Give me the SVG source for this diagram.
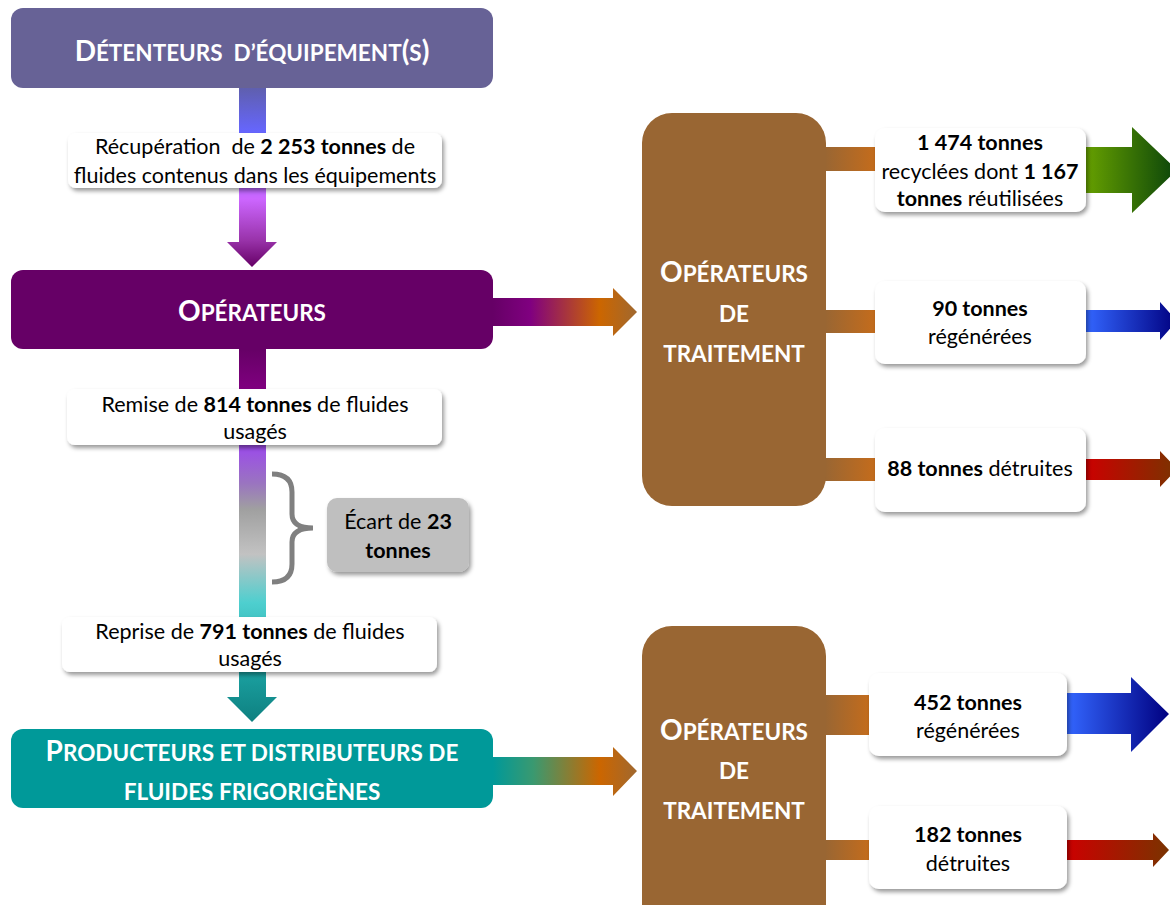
<svg xmlns="http://www.w3.org/2000/svg" width="1170" height="905" viewBox="0 0 1170 905">
<style>
.hdr{font-family:Lato,"Liberation Sans",sans-serif;font-weight:bold;fill:#fff;text-anchor:middle;white-space:pre}
.big{font-size:28px}
.sm{font-size:22.5px}
.lbl{font-family:Lato,"Liberation Sans",sans-serif;font-size:21.5px;fill:#000;text-anchor:middle;white-space:pre}
.b{font-weight:bold}
.card{fill:#fff;filter:url(#sh)}
</style>
<defs>
<filter id="sh" x="-10%" y="-20%" width="125%" height="150%">
<feDropShadow dx="2" dy="3" stdDeviation="2" flood-color="#000" flood-opacity="0.4"/>
</filter>
<linearGradient id="gv1" gradientUnits="userSpaceOnUse" x1="0" y1="88" x2="0" y2="267">
<stop offset="0" stop-color="#5f5fae"/>
<stop offset="0.25" stop-color="#6666ff"/>
<stop offset="0.62" stop-color="#cc66ff"/>
<stop offset="0.85" stop-color="#9933aa"/>
<stop offset="1" stop-color="#660066"/>
</linearGradient>
<linearGradient id="gv2" gradientUnits="userSpaceOnUse" x1="0" y1="349" x2="0" y2="722">
<stop offset="0" stop-color="#660066"/>
<stop offset="0.11" stop-color="#800080"/>
<stop offset="0.27" stop-color="#9b4fe6"/>
<stop offset="0.36" stop-color="#9a74c0"/>
<stop offset="0.43" stop-color="#a0a0a0"/>
<stop offset="0.55" stop-color="#c2c2c2"/>
<stop offset="0.68" stop-color="#4ecfcf"/>
<stop offset="0.87" stop-color="#1a9f9f"/>
<stop offset="1" stop-color="#0e8080"/>
</linearGradient>
<linearGradient id="gh1" gradientUnits="userSpaceOnUse" x1="493" y1="0" x2="637" y2="0">
<stop offset="0" stop-color="#660066"/>
<stop offset="0.26" stop-color="#800080"/>
<stop offset="0.74" stop-color="#cc6600"/>
<stop offset="1" stop-color="#a0682f"/>
</linearGradient>
<linearGradient id="gh2" gradientUnits="userSpaceOnUse" x1="493" y1="0" x2="637" y2="0">
<stop offset="0" stop-color="#009999"/>
<stop offset="0.28" stop-color="#3a9970"/>
<stop offset="0.74" stop-color="#cc6600"/>
<stop offset="1" stop-color="#a0682f"/>
</linearGradient>
<linearGradient id="gbar" x1="0" y1="0" x2="1" y2="0">
<stop offset="0" stop-color="#996633"/>
<stop offset="1" stop-color="#c46c1c"/>
</linearGradient>
<linearGradient id="ggreen" x1="0" y1="0" x2="1" y2="0">
<stop offset="0" stop-color="#66a000"/>
<stop offset="1" stop-color="#0a440a"/>
</linearGradient>
<linearGradient id="gblue" x1="0" y1="0" x2="1" y2="0">
<stop offset="0" stop-color="#3366ff"/>
<stop offset="1" stop-color="#000080"/>
</linearGradient>
<linearGradient id="gred" x1="0" y1="0" x2="1" y2="0">
<stop offset="0" stop-color="#cc0000"/>
<stop offset="1" stop-color="#7a3300"/>
</linearGradient>
</defs>

<g id="connectors">
<path d="M239 88 H266 V242 H277 L252 267 L227 242 H239 Z" fill="url(#gv1)"/>
<path d="M239 349 H266 V697 H277 L252 722 L227 697 H239 Z" fill="url(#gv2)"/>
<path d="M493 298 H613 V288 L637 312 L613 336 V326 H493 Z" fill="url(#gh1)"/>
<path d="M493 757 H613 V747 L637 771 L613 796 V785 H493 Z" fill="url(#gh2)"/>
<path d="M272 474 Q292 474 292 492 V514 Q292 528 313 528 Q292 528 292 542 V564 Q292 582 272 582" fill="none" stroke="#808080" stroke-width="5"/>
<rect x="825" y="147" width="50" height="24" fill="url(#gbar)"/>
<rect x="825" y="310" width="50" height="23" fill="url(#gbar)"/>
<rect x="825" y="458" width="50" height="23" fill="url(#gbar)"/>
<rect x="825" y="695" width="45" height="40" fill="url(#gbar)"/>
<rect x="825" y="840" width="45" height="20" fill="url(#gbar)"/>
<path d="M1086 147 H1132 V127 L1177 170 L1132 213 V193 H1086 Z" fill="url(#ggreen)"/>
<path d="M1086 310 H1160 V302 L1177 321 L1160 340 V332 H1086 Z" fill="url(#gblue)"/>
<path d="M1086 459 H1160 V451 L1177 469 L1160 487 V480 H1086 Z" fill="url(#gred)"/>
<path d="M1067 693 H1131 V677 L1169 714 L1131 752 V734 H1067 Z" fill="url(#gblue)"/>
<path d="M1067 840 H1153 V833 L1169 850 L1153 867 V860 H1067 Z" fill="url(#gred)"/>
</g>

<g id="detenteurs">
<rect x="11" y="8" width="482" height="80" rx="12" fill="#676296"/>
<text class="hdr" x="252" y="61"><tspan class="big">D</tspan><tspan class="sm">ÉTENTEURS  D’ÉQUIPEMENT</tspan><tspan class="big">(</tspan><tspan class="sm">S</tspan><tspan class="big">)</tspan></text>
</g>

<g id="label-recuperation">
<rect class="card" x="68" y="133" width="374" height="55" rx="8"/>
<text class="lbl" x="255" y="154">Récupération  de <tspan class="b">2 253 tonnes</tspan> de</text>
<text class="lbl" x="255" y="183">fluides contenus dans les équipements</text>
</g>

<g id="operateurs">
<rect x="11" y="270" width="482" height="79" rx="12" fill="#660066"/>
<text class="hdr" x="252" y="321"><tspan class="big">O</tspan><tspan class="sm">PÉRATEURS</tspan></text>
</g>

<g id="label-remise">
<rect class="card" x="67" y="389" width="375" height="56" rx="8"/>
<text class="lbl" x="255" y="412">Remise de <tspan class="b">814 tonnes</tspan> de fluides</text>
<text class="lbl" x="255" y="439">usagés</text>
</g>

<g id="ecart">
<rect x="327" y="498" width="142" height="74" rx="10" fill="#bfbfbf" filter="url(#sh)"/>
<text class="lbl" x="398" y="529">Écart de <tspan class="b">23</tspan></text>
<text class="lbl b" x="398" y="558">tonnes</text>
</g>

<g id="label-reprise">
<rect class="card" x="62" y="617" width="375" height="55" rx="8"/>
<text class="lbl" x="250" y="639">Reprise de <tspan class="b">791 tonnes</tspan> de fluides</text>
<text class="lbl" x="250" y="666">usagés</text>
</g>

<g id="producteurs">
<rect x="11" y="729" width="482" height="79" rx="12" fill="#009999"/>
<text class="hdr" x="252" y="761"><tspan class="big">P</tspan><tspan class="sm">RODUCTEURS ET DISTRIBUTEURS DE</tspan></text>
<text class="hdr sm" x="252" y="800">FLUIDES FRIGORIGÈNES</text>
</g>

<g id="traitement-1">
<rect x="642" y="113" width="184" height="393" rx="30" fill="#996633"/>
<text class="hdr" x="734" y="282"><tspan class="big">O</tspan><tspan class="sm">PÉRATEURS</tspan></text>
<text class="hdr sm" x="734" y="322">DE</text>
<text class="hdr sm" x="734" y="362">TRAITEMENT</text>
</g>

<g id="traitement-2">
<rect x="642" y="626" width="184" height="310" rx="30" fill="#996633"/>
<text class="hdr" x="734" y="740"><tspan class="big">O</tspan><tspan class="sm">PÉRATEURS</tspan></text>
<text class="hdr sm" x="734" y="779">DE</text>
<text class="hdr sm" x="734" y="819">TRAITEMENT</text>
</g>

<g id="label-recyclees">
<rect class="card" x="875" y="128" width="211" height="84" rx="10"/>
<text class="lbl b" x="980" y="150">1 474 tonnes</text>
<text class="lbl" x="980" y="179">recyclées dont <tspan class="b">1 167</tspan></text>
<text class="lbl" x="980" y="206"><tspan class="b">tonnes</tspan> réutilisées</text>
</g>

<g id="label-regenerees-1">
<rect class="card" x="875" y="281" width="211" height="83" rx="10"/>
<text class="lbl b" x="980" y="316">90 tonnes</text>
<text class="lbl" x="980" y="344">régénérées</text>
</g>

<g id="label-detruites-1">
<rect class="card" x="875" y="428" width="211" height="84" rx="10"/>
<text class="lbl" x="980" y="476"><tspan class="b">88 tonnes</tspan> détruites</text>
</g>

<g id="label-regenerees-2">
<rect class="card" x="869" y="673" width="198" height="83" rx="10"/>
<text class="lbl b" x="968" y="710">452 tonnes</text>
<text class="lbl" x="968" y="738">régénérées</text>
</g>

<g id="label-detruites-2">
<rect class="card" x="869" y="806" width="198" height="83" rx="10"/>
<text class="lbl b" x="968" y="842">182 tonnes</text>
<text class="lbl" x="968" y="871">détruites</text>
</g>
</svg>
